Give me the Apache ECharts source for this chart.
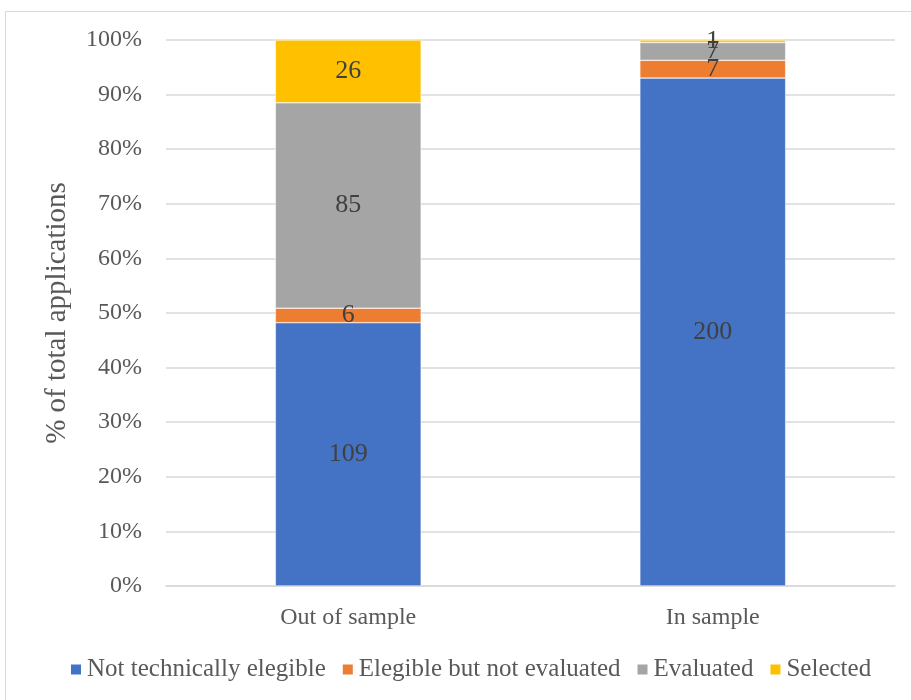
<!DOCTYPE html>
<html>
<head>
<meta charset="utf-8">
<script src="https://cdn.jsdelivr.net/npm/echarts@6/dist/echarts.min.js"></script>
<style>
  html, body { margin: 0; padding: 0; background: #fff; }
  #frame { position: absolute; left: 5px; top: 11px; width: 910px; height: 700px; border: 1px solid #d9d9d9; box-sizing: border-box; }
  #chart { width: 911px; height: 700px; }
</style>
</head>
<body>
<div id="frame"></div>
<div id="chart"></div>
<script>
// Application counts per group
const categories = ['Out of sample', 'In sample'];
const notEligible = [109, 200];
const eligibleNotEvaluated = [6, 7];
const evaluated = [85, 7];
const selected = [26, 1];
const yTicks = [0, 10, 20, 30, 40, 50, 60, 70, 80, 90, 100];

const seriesDefs = [
  { name: 'Not technically elegible', values: notEligible, color: '#4472C4' },
  { name: 'Elegible but not evaluated', values: eligibleNotEvaluated, color: '#ED7D31' },
  { name: 'Evaluated', values: evaluated, color: '#A5A5A5' },
  { name: 'Selected', values: selected, color: '#FFC000' }
];

// Totals per category, used to express each segment as a share of all applications
const totals = categories.map((_, i) => seriesDefs.reduce((s, d) => s + d.values[i], 0));

const FONT = 'Liberation Serif';
const TEXT = '#595959';

const chart = echarts.init(document.getElementById('chart'));
chart.setOption({
  animation: false,
  textStyle: { fontFamily: FONT },
  grid: { left: 166, right: 16, top: 40, bottom: 114 },
  legend: {
    bottom: 13,
    left: 64,
    itemWidth: 12,
    itemHeight: 12,
    itemGap: 15,
    icon: 'rect',
    textStyle: { fontFamily: FONT, fontSize: 25, color: TEXT, padding: [0, 0, 0, 0] },
    data: seriesDefs.map(d => d.name)
  },
  xAxis: {
    type: 'category',
    data: categories,
    axisLine: { lineStyle: { color: '#d9d9d9', width: 1.5 } },
    axisTick: { show: false },
    axisLabel: { fontFamily: FONT, fontSize: 24, color: TEXT, margin: 20 }
  },
  yAxis: {
    type: 'value',
    min: yTicks[0],
    max: yTicks[yTicks.length - 1],
    interval: 10,
    name: '% of total applications',
    nameLocation: 'middle',
    nameGap: 94,
    nameTextStyle: { fontFamily: FONT, fontSize: 29, color: TEXT },
    axisLine: { show: false },
    axisTick: { show: false },
    splitLine: { lineStyle: { color: '#d9d9d9', width: 1.5 } },
    axisLabel: { fontFamily: FONT, fontSize: 24, color: TEXT, margin: 24, formatter: v => v + '%' }
  },
  series: seriesDefs.map(d => ({
    name: d.name,
    type: 'bar',
    stack: 'total',
    barWidth: '40%',
    itemStyle: { color: d.color, borderColor: '#ffffff', borderWidth: 0.5 },
    label: {
      show: true,
      position: 'inside',
      fontFamily: FONT,
      fontSize: 26,
      color: '#404040',
      formatter: p => String(d.values[p.dataIndex])
    },
    data: d.values.map((v, i) => v / totals[i] * 100)
  }))
});
</script>
</body>
</html>
